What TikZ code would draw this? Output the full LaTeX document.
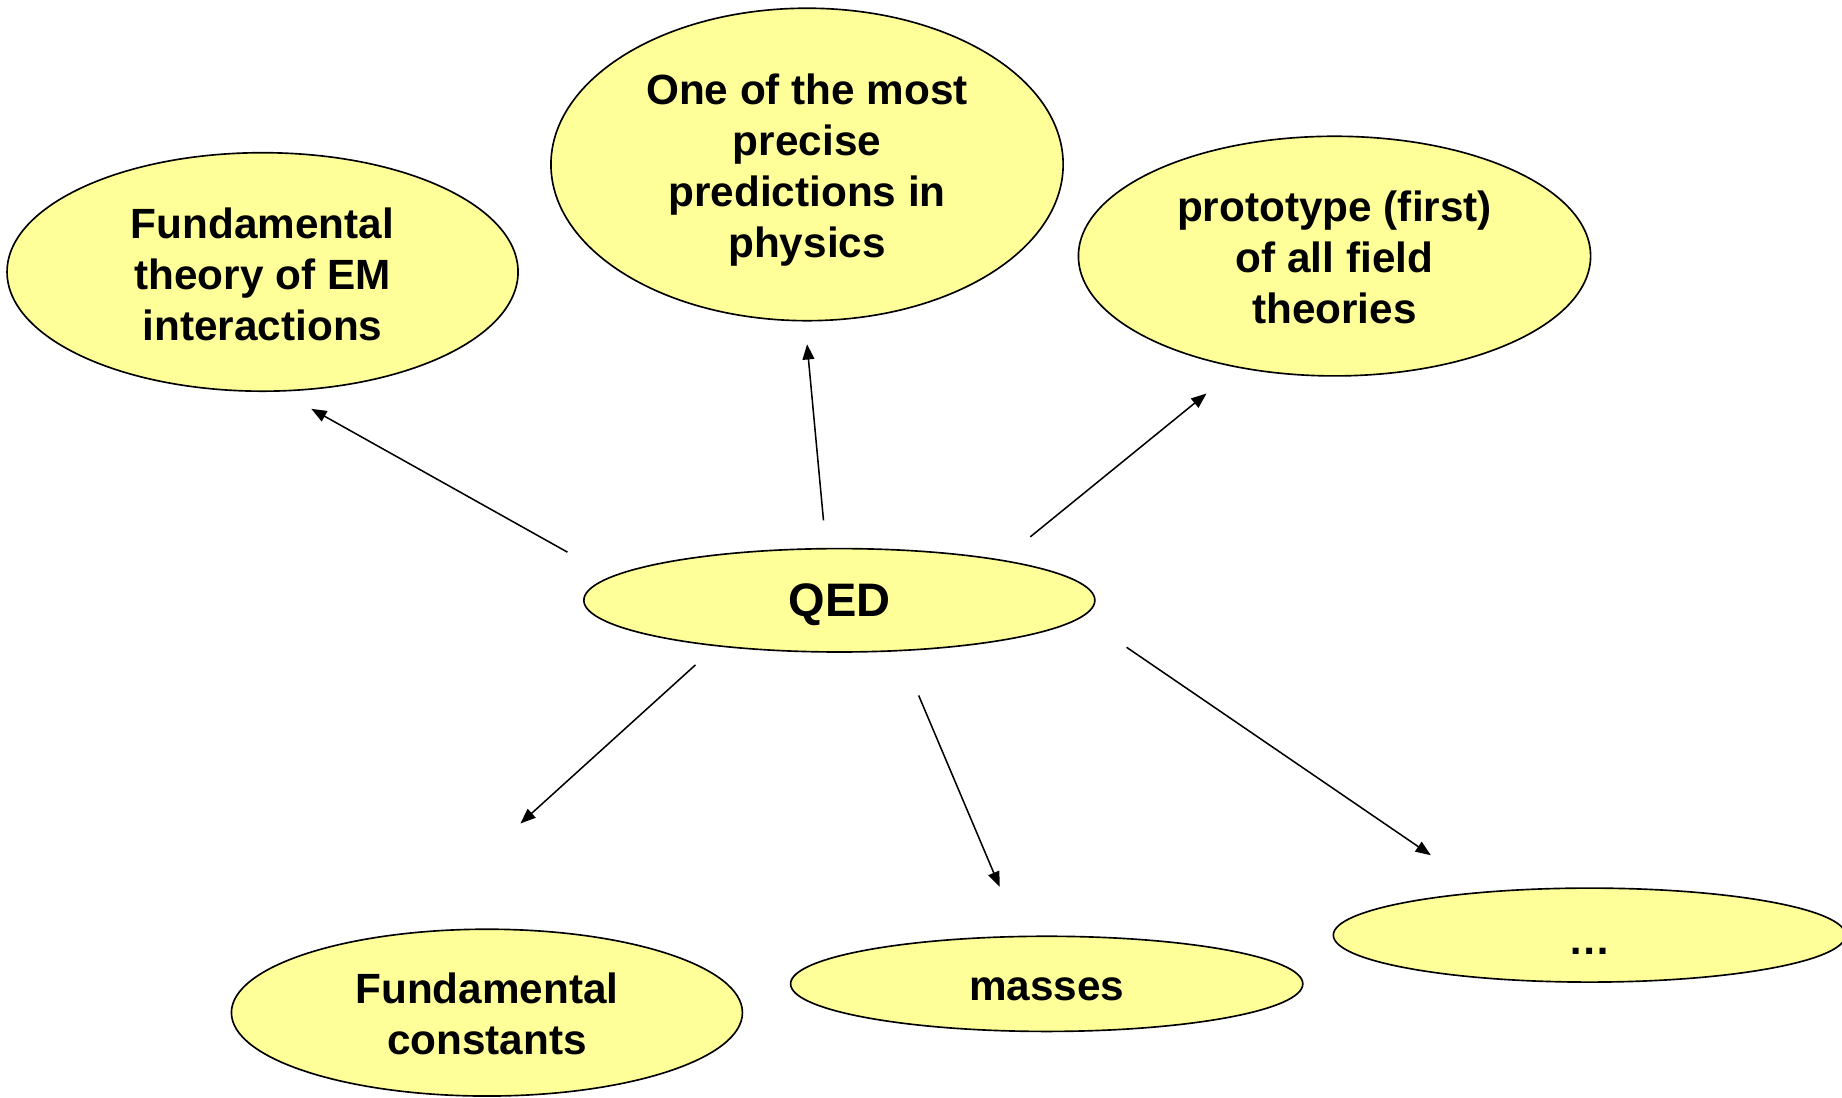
\documentclass[tikz,border=0pt]{standalone}
\usepackage{fontspec}
\setmainfont{Liberation Sans}
\usetikzlibrary{shapes.geometric,arrows.meta}
\definecolor{bubble}{RGB}{255,255,153}
\begin{document}
\begin{tikzpicture}[x=1pt,y=-1pt,
  bubble/.style={ellipse,draw=black,line width=1.4pt,fill=bubble,inner sep=0pt},
  caption/.style={align=center,inner sep=0pt,font=\fontsize{36}{43.5}\selectfont\bfseries},
  link/.style={-{Triangle[length=13pt,width=10pt]},line width=1.3pt}]
\useasboundingbox (0,0) rectangle (1568,934);
% bubbles
\node[bubble,minimum width=435pt,minimum height=203pt] (em)    at (223.5,231.5) {};
\node[bubble,minimum width=436pt,minimum height=266pt] (prec)  at (687,140) {};
\node[bubble,minimum width=436pt,minimum height=204pt] (proto) at (1136,218) {};
\node[bubble,minimum width=435pt,minimum height=88pt]  (qed)   at (714.5,511) {};
\node[bubble,minimum width=435pt,minimum height=142pt] (const) at (414.5,862) {};
\node[bubble,minimum width=436pt,minimum height=81pt]  (mass)  at (891,837.5) {};
\node[bubble,minimum width=436pt,minimum height=80pt]  (more)  at (1353,796) {};
% their texts
\node[caption] (em-t)    at (223.5,233.5) {Fundamental\\theory of EM\\interactions};
\node[caption] (prec-t)  at (687,145) {One of the most\\precise\\predictions in\\physics};
\node[caption] (proto-t) at (1136,219) {prototype (first)\\of all field\\theories};
\node[caption,font=\fontsize{40}{48}\selectfont\bfseries] (qed-t) at (714.5,515) {QED};
\node[caption] (const-t) at (414.5,863) {Fundamental\\constants};
\node[caption] (mass-t)  at (891,842.5) {masses};
\node[caption] (more-t)  at (1353,810) {…};
% free arrow ends around QED
\coordinate (s1) at (483,470);   \coordinate (e1) at (265,348);
\coordinate (s2) at (701,443);   \coordinate (e2) at (687,293);
\coordinate (s3) at (877,457);   \coordinate (e3) at (1027,335);
\coordinate (s4) at (592,566);   \coordinate (e4) at (443,701);
\coordinate (s5) at (782,592);   \coordinate (e5) at (851,755);
\coordinate (s6) at (959,551);   \coordinate (e6) at (1218,728);
\foreach \i in {1,...,6} \draw[link] (s\i) -- (e\i);
\end{tikzpicture}
\end{document}
